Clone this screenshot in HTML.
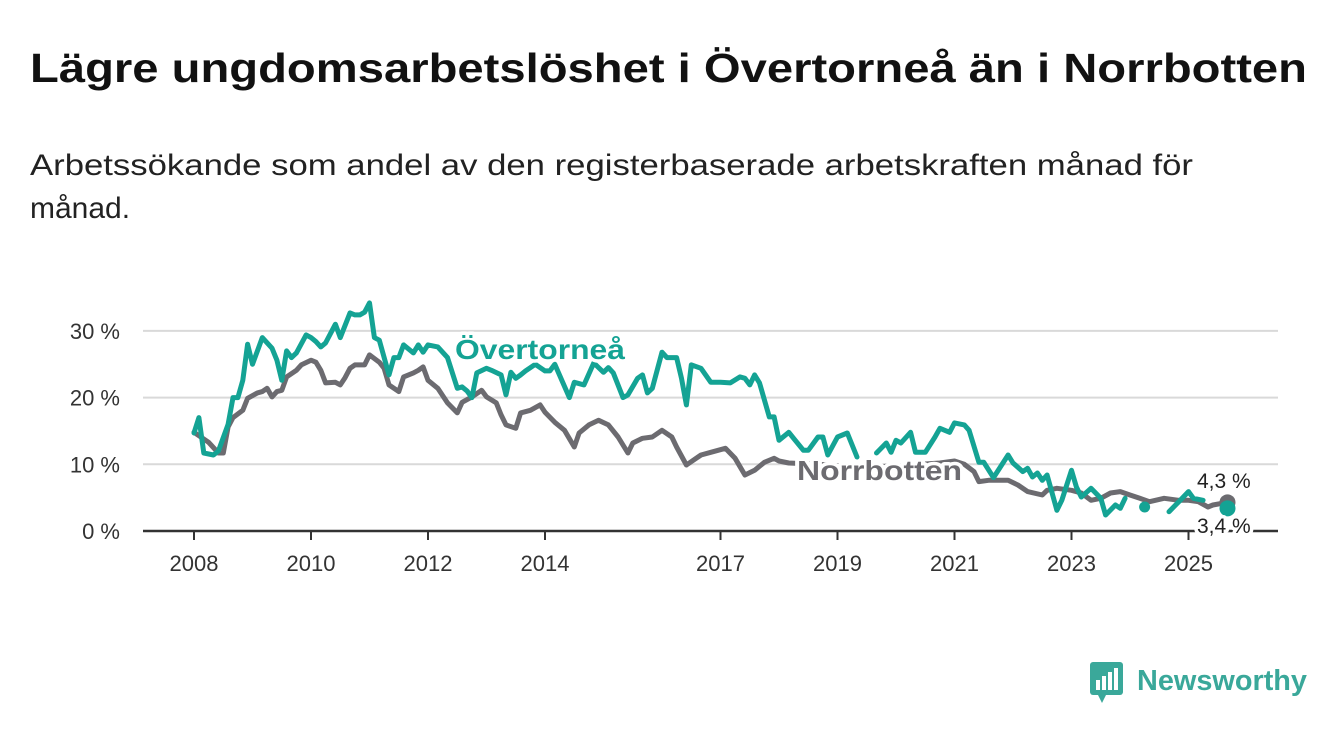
<!DOCTYPE html>
<html><head><meta charset="utf-8"><style>
html,body{margin:0;padding:0;background:#fff;}
svg{display:block;font-family:"Liberation Sans",sans-serif;}
</style></head><body>
<svg id="chart" width="1340" height="734" viewBox="0 0 1340 734" xmlns="http://www.w3.org/2000/svg">
<text x="30" y="82" font-size="41" font-weight="bold" fill="#111" textLength="1277" lengthAdjust="spacingAndGlyphs">Lägre ungdomsarbetslöshet i Övertorneå än i Norrbotten</text>
<text x="30" y="175" font-size="30" fill="#222" textLength="1163" lengthAdjust="spacingAndGlyphs">Arbetssökande som andel av den registerbaserade arbetskraften månad för</text>
<text x="30" y="218" font-size="30" fill="#222">månad.</text>
<g id="grid"></g>
<g id="series"></g>
<g id="labels"></g>
<g>
<rect x="1090" y="662" width="33" height="33" rx="3" fill="#3aa89a"/>
<polygon points="1098,695 1106,695 1102,703" fill="#3aa89a"/>
<rect x="1096" y="680" width="4" height="10" fill="#fff"/>
<rect x="1102" y="676" width="4" height="14" fill="#fff"/>
<rect x="1108" y="672" width="4" height="18" fill="#fff"/>
<rect x="1114" y="668" width="4" height="22" fill="#fff"/>
<text x="1137" y="690" font-size="29" font-weight="bold" fill="#3aa89a" textLength="170" lengthAdjust="spacingAndGlyphs">Newsworthy</text>
</g>
</svg>
<script>
const yTicks=[0,10,20,30];
const xTickYears=[2008,2010,2012,2014,2017,2019,2021,2023,2025];
const oMonths=[0,1,2,4,5,7,8,9,10,11,12,14,16,17,18,19,20,21,23,24,25,26,27,29,30,32,33,34,35,36,37,38,40,41,42,43,45,46,47,48,50,52,54,55,56,57,58,60,61,63,64,65,66,67,68,70,72,73,74,77,78,80,82,83,84,85,86,88,89,91,92,93,94,96,97,99,100,101,102,104,106,108,110,112,113,114,115,116,118,119,120,122,123,125,126,128,129,130,132,134,136,137,139,140,142,143,144,145,147,148,150,152,153,155,156,158,159,161,162,164,167,168,170,171,172,173,174,175,177,178,180,181,182,184,186,187,189,190,191,193,195,197,200,202,204,205,207,209,212];
const oValues=[14.7,17,11.7,11.4,12,16,20,20,22.6,28,25,29,27.4,25.6,22.6,27,26,26.7,29.4,29,28.4,27.6,28.2,31,29,32.7,32.4,32.4,32.8,34.2,29,28.6,23.4,26,26,27.9,26.7,27.9,26.8,27.9,27.6,26,21.4,21.6,21,20,23.7,24.4,24.1,23.4,20.4,23.8,22.9,23.4,24,25,24,24,25,20,22.3,21.9,25.2,24.5,23.8,24.5,23.7,20,20.4,22.9,23.4,20.7,21.4,26.8,26,26,22.9,18.9,24.9,24.4,22.3,22.3,22.2,23.1,22.9,21.9,23.4,22.2,17.1,17.1,13.6,14.8,13.9,12.1,12.1,14.1,14.1,11.4,14.1,14.7,11.1,null,null,11.7,13.2,11.8,13.6,13.2,14.8,11.8,11.8,14.1,15.4,14.8,16.2,15.9,15.1,10.3,10.3,8,11.4,10.2,8.9,9.4,8.1,8.7,7.6,8.4,3.1,4.6,9.1,6.6,5.1,6.4,4.9,2.4,3.9,3.4,4.9,null,3.6,null,2.9,4.4,5.9,4.9,4.6,null,3.4];
const nMonths=[0,3,5,6,7,8,10,11,13,14,15,16,17,18,19,21,22,24,25,26,27,29,30,31,32,33,35,36,38,39,40,42,43,45,46,47,48,50,52,54,55,57,59,60,62,63,64,66,67,69,71,72,74,76,78,79,81,83,85,87,89,90,92,94,96,98,99,101,103,104,106,109,111,113,115,117,119,120,122,128,137,145,153,156,158,160,161,163,165,167,169,171,174,175,177,180,182,184,186,188,190,192,194,196,199,202,204,206,208,209,212];
const nValues=[14.8,13.3,11.7,11.7,15.6,17,18.1,19.9,20.7,20.9,21.4,20.1,20.9,21.1,23.1,24.1,24.9,25.6,25.3,24.1,22.2,22.3,21.9,23,24.4,24.9,24.9,26.4,25.3,24.4,21.9,20.9,23.1,23.7,24.1,24.6,22.6,21.4,19.2,17.7,19.3,20.1,21.1,20.1,19.2,17.4,15.9,15.4,17.7,18.1,18.9,17.8,16.3,15.1,12.6,14.7,15.9,16.6,15.9,14.1,11.7,13.2,13.9,14.1,15.1,14.1,12.6,9.9,10.9,11.4,11.8,12.4,10.9,8.4,9.1,10.3,10.9,10.5,10.2,10,9.5,9.8,10.2,10.5,10,8.9,7.4,7.6,7.6,7.6,6.9,5.9,5.4,6.1,6.4,6.1,5.7,4.6,4.9,5.7,5.9,5.4,4.9,4.4,4.9,4.6,4.6,4.4,3.6,3.9,4.3];
const NS="http://www.w3.org/2000/svg";
function xM(m){return 194+m*4.875;}
function xY(y){return xM((y-2008)*12);}
function yV(v){return 531-v*6.67;}
function mk(tag,attrs,parent,text){const e=document.createElementNS(NS,tag);for(const k in attrs)e.setAttribute(k,attrs[k]);if(text!==undefined)e.textContent=text;parent.appendChild(e);return e;}
const grid=document.getElementById('grid');
yTicks.forEach(t=>{
  if(t>0){const l=mk('line',{x1:143,x2:1278,y1:yV(t),y2:yV(t),stroke:'#d9d9d9','stroke-width':2},grid);
  
  }
  const tx=mk('text',{x:120,y:yV(t)+8,'font-size':22,fill:'#333','text-anchor':'end'},grid,t+' %');
  
  
});
const ax=mk('line',{x1:143,x2:1278,y1:531,y2:531,stroke:'#333','stroke-width':2.5},grid);


xTickYears.forEach(y=>{
  const x=xY(y);
  mk('line',{x1:x,x2:x,y1:531,y2:540,stroke:'#333','stroke-width':2},grid);
  const tx=mk('text',{x:x,y:571,'font-size':22,fill:'#333','text-anchor':'middle'},grid,String(y));
  
  
});
const series=document.getElementById('series');
function drawSeries(months,values,color,name){
  let d='';let pen=false;
  const g=mk('g',{},series);
  
  
  for(let i=0;i<months.length;i++){
    const v=values[i];
    if(v===null){pen=false;continue;}
    const prevNull=(i===0||values[i-1]===null);
    const nextNull=(i===months.length-1||values[i+1]===null);
    if(prevNull&&nextNull&&i!==months.length-1){mk('circle',{cx:xM(months[i]),cy:yV(v),r:5.5,fill:color},g);}
    d+=(pen?'L':'M')+xM(months[i]).toFixed(1)+','+yV(v).toFixed(1);
    pen=true;
  }
  const p=mk('path',{d:d,fill:'none',stroke:color,'stroke-width':5,'stroke-linejoin':'round','stroke-linecap':'round'},g);
  
  
  const last=months.length-1;
  const c=mk('circle',{cx:xM(months[last]),cy:yV(values[last]),r:8,fill:color},g);
  
  
}
drawSeries(nMonths,nValues,'#6c6b70','norrbotten-series');
drawSeries(oMonths,oValues,'#14a394','overtornea-series');
const labels=document.getElementById('labels');
function lab(x,y,txt,color,size,weight,name,len){
  const a={x:x,y:y,'font-size':size,'font-weight':weight,fill:color,stroke:'#fff','stroke-width':7,'paint-order':'stroke','stroke-linejoin':'round'};
  if(len){a.textLength=len;a.lengthAdjust='spacingAndGlyphs';}
  const t=mk('text',a,labels,txt);
  
  
}
lab(455,359,'Övertorneå','#14a394',28,'bold','overtornea-label',170);
lab(797,480,'Norrbotten','#6c6b70',28,'bold','norrbotten-label',165);
lab(1197,488,'4,3 %','#222',21,'normal','norrbotten-end-value');
lab(1197,533,'3,4 %','#222',21,'normal','overtornea-end-value');
</script>
</body></html>
